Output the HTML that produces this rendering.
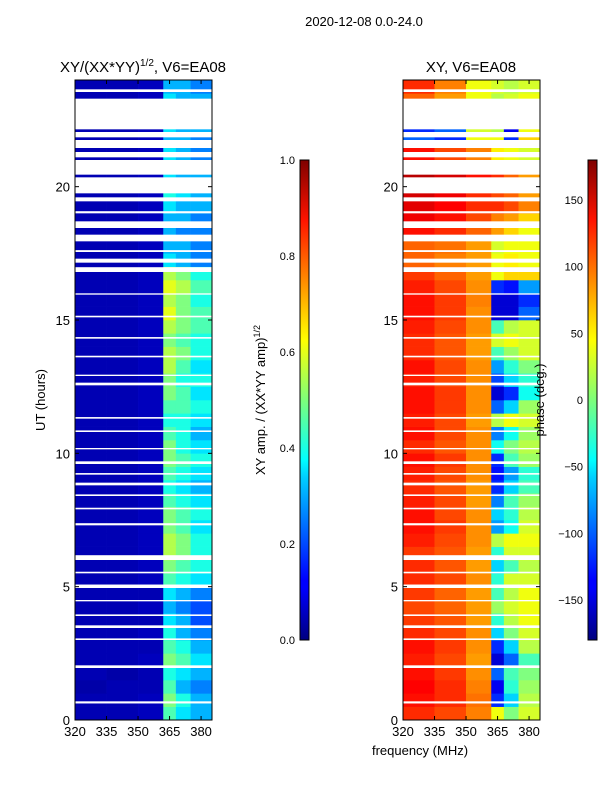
<!DOCTYPE html>
<html><head><meta charset="utf-8">
<style>
body{margin:0;background:#fff;width:600px;height:800px;overflow:hidden}
svg text{font-family:"Liberation Sans",sans-serif;fill:#000}
</style></head>
<body>
<svg id="fig" width="600" height="800" viewBox="0 0 600 800" xmlns="http://www.w3.org/2000/svg">
<defs>
<linearGradient id="jet" x1="0" y1="1" x2="0" y2="0">
<stop offset="0" stop-color="#00007f"/><stop offset="0.11" stop-color="#0000ff"/>
<stop offset="0.125" stop-color="#0000ff"/><stop offset="0.34" stop-color="#00d0ff"/>
<stop offset="0.375" stop-color="#00ffff"/><stop offset="0.5" stop-color="#7dff7a"/>
<stop offset="0.625" stop-color="#ffff00"/><stop offset="0.66" stop-color="#ffe000"/>
<stop offset="0.875" stop-color="#ff1300"/><stop offset="1" stop-color="#7f0000"/>
</linearGradient>
</defs>
<text x="364" y="26" font-size="13" text-anchor="middle">2020-12-08 0.0-24.0</text>
<text x="143" y="72" font-size="15" text-anchor="middle">XY/(XX*YY)<tspan font-size="10" dy="-6">1/2</tspan><tspan dy="6">, V6=EA08</tspan></text>
<text x="471" y="72" font-size="15" text-anchor="middle">XY, V6=EA08</text>
<g id="ampPanel"></g>
<g id="phPanel"></g>
<g id="axes"></g>
<rect x="300" y="160" width="9" height="480" fill="url(#jet)" stroke="#000" stroke-width="1"/>
<rect x="588" y="160" width="9" height="480" fill="url(#jet)" stroke="#000" stroke-width="1"/>
<text x="420" y="755" font-size="13" text-anchor="middle">frequency (MHz)</text>
<text transform="translate(45,400) rotate(-90)" font-size="13" text-anchor="middle">UT (hours)</text>
<text transform="translate(265,400) rotate(-90)" font-size="13" text-anchor="middle">XY amp. / (XX*YY amp)<tspan font-size="9" dy="-5">1/2</tspan></text>
<text transform="translate(544,400) rotate(-90)" font-size="13" text-anchor="middle">phase (deg.)</text>
</svg>
<script>
const freqEdges=[320,335,350,362,368,375,385.2];
const rowHours=0.5;
const ampValues=[
[0.05,0.05,0.06,0.45,0.35,0.3],[0.05,0.05,0.06,0.5,0.4,0.3],[0.04,0.05,0.05,0.45,0.3,0.25],[0.05,0.04,0.05,0.4,0.35,0.3],
[0.05,0.05,0.06,0.5,0.45,0.35],[0.05,0.05,0.05,0.45,0.4,0.3],[0.05,0.05,0.06,0.4,0.3,0.25],[0.05,0.05,0.05,0.35,0.3,0.2],
[0.05,0.05,0.06,0.3,0.25,0.2],[0.05,0.05,0.05,0.35,0.3,0.25],[0.05,0.05,0.06,0.45,0.4,0.35],[0.05,0.05,0.06,0.5,0.45,0.4],
[0.05,0.05,0.06,0.55,0.5,0.4],[0.05,0.05,0.06,0.55,0.5,0.4],[0.05,0.05,0.06,0.5,0.45,0.35],[0.05,0.05,0.06,0.5,0.45,0.4],
[0.05,0.05,0.06,0.45,0.4,0.35],[0.05,0.05,0.06,0.4,0.35,0.3],[0.05,0.05,0.06,0.45,0.4,0.35],[0.05,0.05,0.06,0.5,0.45,0.4],
[0.05,0.05,0.06,0.5,0.4,0.35],[0.05,0.05,0.06,0.45,0.4,0.3],[0.05,0.05,0.06,0.4,0.4,0.35],[0.05,0.05,0.06,0.45,0.45,0.4],
[0.05,0.05,0.06,0.5,0.45,0.35],[0.05,0.05,0.06,0.5,0.4,0.4],[0.05,0.05,0.06,0.55,0.45,0.35],[0.05,0.05,0.06,0.55,0.5,0.4],
[0.05,0.05,0.06,0.5,0.45,0.4],[0.05,0.05,0.06,0.55,0.5,0.45],[0.05,0.05,0.06,0.6,0.5,0.45],[0.05,0.05,0.06,0.55,0.5,0.4],
[0.05,0.05,0.06,0.6,0.55,0.45],[0.05,0.05,0.06,0.55,0.5,0.4],[0.05,0.05,0.06,0.35,0.3,0.25],[0.05,0.05,0.06,0.3,0.3,0.25],
[0.05,0.05,0.06,0.3,0.25,0.25],[0.05,0.05,0.06,0.3,0.3,0.25],[0.05,0.05,0.06,0.35,0.3,0.3],[0.05,0.05,0.06,0.4,0.35,0.3],
[0.05,0.05,0.06,0.35,0.3,0.3],[0.05,0.05,0.06,0.3,0.3,0.25],[0.05,0.05,0.06,0.35,0.3,0.25],[0.05,0.05,0.06,0.3,0.3,0.25],
[0.05,0.05,0.06,0.35,0.3,0.3],[0.05,0.05,0.06,0.4,0.35,0.3],[0.05,0.05,0.06,0.35,0.3,0.3],[0.05,0.05,0.06,0.3,0.3,0.25]];
const phaseValues=[
[120,110,90,40,0,30],[130,120,95,-120,-60,20],[135,120,90,-140,-30,10],[130,115,85,-100,-20,0],
[125,110,80,-150,-100,-20],[130,115,85,-120,-60,20],[120,110,85,-60,0,30],[115,105,80,-30,20,40],
[110,100,80,10,30,40],[115,100,80,-20,20,40],[120,110,85,-30,30,30],[120,105,80,-60,-20,20],
[115,105,80,-30,30,30],[125,110,85,20,40,40],[130,115,85,-80,-40,30],[130,110,85,-60,-30,20],
[125,110,80,-90,-20,10],[120,105,80,-120,-60,-20],[125,110,85,-130,-80,-30],[130,115,85,-120,-20,10],
[120,105,85,-40,0,20],[130,110,85,-90,-40,10],[125,110,80,20,40,30],[130,115,85,-100,-60,10],
[130,115,85,-150,-120,-40],[125,110,85,-110,-60,-30],[130,110,85,-80,-30,0],[120,105,80,-20,10,30],
[120,105,80,30,40,30],[125,110,85,-20,20,30],[130,115,85,-150,-150,-100],[130,115,90,-150,-150,-120],
[125,110,85,-120,-130,-80],[115,100,80,40,60,60],[100,90,80,40,50,40],[100,95,80,30,40,40],
[130,120,100,80,60,40],[140,130,110,90,80,60],[145,135,120,120,110,90],[150,140,120,110,100,80],
[160,150,130,120,100,80],[140,120,100,60,40,40],[130,110,90,50,40,30],[-100,-120,40,40,-120,60],
[-120,-100,30,20,-140,40],[60,40,40,20,20,30],[100,80,40,20,30,40],[120,90,40,30,20,30]];
const gapRanges=[[0.62,0.7],[1.95,2.05],[3.0,3.06],[3.45,3.55],[3.9,3.96],[4.45,4.5],[4.95,5.08],[5.5,5.56],[6.0,6.18],[7.3,7.38],[7.9,7.96],[8.4,8.46],[8.8,8.9],[9.2,9.26],[9.6,9.7],[10.15,10.2],[10.8,10.86],[11.3,11.36],[12.55,12.65],[12.9,12.95],[13.6,13.66],[14.3,14.36],[15.1,15.16],[15.95,16.0],[16.8,16.98],[17.15,17.3],[17.55,17.62],[17.95,18.2],[18.45,18.7],[19.0,19.08],[19.45,19.6],[19.75,20.35],[20.45,21.0],[21.1,21.3],[21.45,21.75],[21.85,22.05],[22.15,23.3],[23.55,23.65]];
const xTicks=[320,335,350,365,380];
const yTicks=[0,5,10,15,20];
const ampCbTicks=[0,0.2,0.4,0.6,0.8,1.0];
const phCbTicks=[-150,-100,-50,0,50,100,150];

const NS="http://www.w3.org/2000/svg";
const fMin=320,fMax=385.2,tMin=0,tMax=24,pTop=80,pBot=720;
const xAmp=f=>75+(f-fMin)/(fMax-fMin)*137;
const xPh=f=>403+(f-fMin)/(fMax-fMin)*137;
const yT=t=>pBot-(t-tMin)/(tMax-tMin)*(pBot-pTop);
function jet(v){v=Math.max(0,Math.min(1,v));
 const r=Math.max(0,Math.min(1,1.5-Math.abs(4*v-3))),g=Math.max(0,Math.min(1,1.5-Math.abs(4*v-2))),b=Math.max(0,Math.min(1,1.5-Math.abs(4*v-1)));
 return `rgb(${Math.round(r*255)},${Math.round(g*255)},${Math.round(b*255)})`;}
function mk(tag,attrs,parent){const e=document.createElementNS(NS,tag);for(const k in attrs)e.setAttribute(k,attrs[k]);parent.appendChild(e);return e;}
function drawHeat(g,vals,xf,norm,name){
 vals.forEach((row,i)=>{row.forEach((v,j)=>{
  const x0=xf(freqEdges[j]),x1=xf(freqEdges[j+1]),y0=yT((i+1)*rowHours),y1=yT(i*rowHours);
  const r=mk('rect',{x:x0,y:y0,width:x1-x0+0.3,height:y1-y0+0.3,fill:jet(norm(v))},g);
  
  
 });});
 gapRanges.forEach(gp=>{
  const r=mk('rect',{x:xf(fMin),y:yT(gp[1]),width:137,height:yT(gp[0])-yT(gp[1]),fill:'#fff'},g);
  
  
 });
}
drawHeat(document.getElementById('ampPanel'),ampValues,xAmp,v=>v,'amp-cell');
drawHeat(document.getElementById('phPanel'),phaseValues,xPh,v=>(v+180)/360,'phase-cell');
const ax=document.getElementById('axes');
[[75,xAmp],[403,xPh]].forEach(([x0,xf],k)=>{
 const fr=mk('rect',{x:x0,y:pTop,width:137,height:pBot-pTop,fill:'none',stroke:'#000','stroke-width':1},ax);
 
 
 xTicks.forEach(t=>{const x=xf(t);
  mk('line',{x1:x,x2:x,y1:pBot,y2:pBot-4,stroke:'#000'},ax);mk('line',{x1:x,x2:x,y1:pTop,y2:pTop+4,stroke:'#000'},ax);
  const tx=mk('text',{x:x,y:pBot+16,'font-size':13,'text-anchor':'middle'},ax);tx.textContent=t;
  
  });
 yTicks.forEach(t=>{const y=yT(t);
  mk('line',{x1:x0,x2:x0+4,y1:y,y2:y,stroke:'#000'},ax);mk('line',{x1:x0+137,x2:x0+133,y1:y,y2:y,stroke:'#000'},ax);
  const tx=mk('text',{x:x0-5,y:y+5,'font-size':13,'text-anchor':'end'},ax);tx.textContent=t;
  
  });
});
ampCbTicks.forEach(t=>{const y=640-t*480;
 mk('line',{x1:300,x2:303,y1:y,y2:y,stroke:'#000'},ax);mk('line',{x1:309,x2:306,y1:y,y2:y,stroke:'#000'},ax);
 const tx=mk('text',{x:295,y:y+4,'font-size':11,'text-anchor':'end'},ax);tx.textContent=t.toFixed(1);
 
 });
phCbTicks.forEach(t=>{const y=640-(t+180)/360*480;
 mk('line',{x1:588,x2:591,y1:y,y2:y,stroke:'#000'},ax);mk('line',{x1:597,x2:594,y1:y,y2:y,stroke:'#000'},ax);
 const tx=mk('text',{x:583,y:y+4,'font-size':11,'text-anchor':'end'},ax);tx.textContent=t<0?'\u2212'+(-t):t;
 
 });
</script>
</body></html>
